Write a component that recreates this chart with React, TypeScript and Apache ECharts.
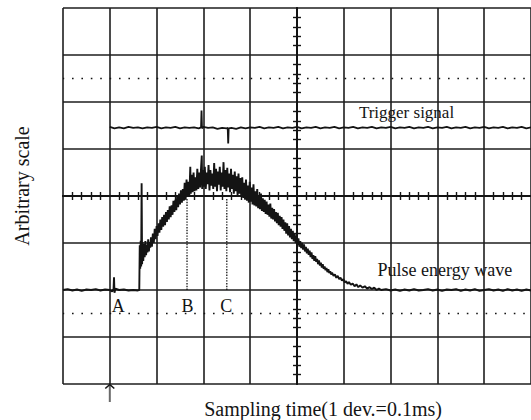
import React, { useEffect, useRef } from "react";
import * as echarts from "echarts";

// Screen divisions of the oscilloscope display
const xDivisions = 10;
const yDivisions = 8;

// Pulse energy wave, [division, level] pairs
const pulseBaseline: [number, number][] = [
  [0, 2.0], [0.1, 2.02], [0.2, 1.99], [0.3, 2.01], [0.4, 1.98], [0.5, 2.01], [0.6, 2.0],
  [0.7, 2.02], [0.8, 1.99], [0.9, 2.01], [1.0, 2.0], [1.05, 1.97], [1.08, 2.02], [1.09, 2.27],
  [1.1, 1.94], [1.12, 2.03], [1.2, 2.0], [1.3, 2.01], [1.4, 1.99], [1.5, 2.0], [1.6, 1.99],
  [1.63, 2.0],
];
const pulseRise: [number, number][] = [
  [1.64, 2.95], [1.65, 2.45], [1.66, 3.05], [1.67, 2.5], [1.68, 4.27], [1.69, 2.55],
  [1.7, 3.02], [1.715, 2.62], [1.73, 2.98], [1.745, 2.7], [1.76, 3.04], [1.775, 2.74],
  [1.79, 2.96], [1.805, 2.8], [1.82, 3.08], [1.835, 2.82], [1.85, 3.02], [1.865, 2.9],
  [1.88, 3.12], [1.9, 2.92], [1.92, 3.2], [1.94, 3.0], [1.96, 3.3], [1.98, 3.08], [2.0, 3.36],
  [2.02, 3.15], [2.04, 3.42], [2.06, 3.22], [2.08, 3.5], [2.1, 3.28], [2.12, 3.55], [2.14, 3.35],
  [2.16, 3.6], [2.18, 3.38], [2.2, 3.66], [2.22, 3.45], [2.24, 3.7], [2.26, 3.5], [2.28, 3.78],
  [2.3, 3.55], [2.32, 3.8], [2.34, 3.6], [2.36, 3.9], [2.38, 3.66], [2.4, 3.92], [2.42, 3.7],
  [2.44, 4.0], [2.46, 3.76], [2.48, 4.05], [2.5, 3.82], [2.52, 4.12], [2.54, 3.86], [2.56, 4.15],
  [2.58, 3.9], [2.6, 4.28], [2.62, 3.92], [2.64, 4.35], [2.66, 3.98], [2.68, 4.3], [2.7, 4.02],
  [2.72, 4.62], [2.73, 4.05], [2.75, 4.45], [2.77, 4.08], [2.79, 4.5], [2.81, 4.1], [2.83, 4.4],
  [2.85, 4.12], [2.87, 4.58], [2.89, 4.15], [2.91, 4.5], [2.93, 4.18], [2.95, 4.6], [2.965, 4.86],
  [2.975, 4.15],
];
const pulsePeak: [number, number][] = [
  [2.99, 4.55], [3.01, 4.2], [3.03, 4.62], [3.05, 4.15], [3.07, 4.5], [3.09, 4.25], [3.11, 4.66],
  [3.13, 4.12], [3.15, 4.55], [3.17, 4.22], [3.19, 4.48], [3.21, 4.15], [3.23, 4.7], [3.25, 4.2],
  [3.27, 4.58], [3.29, 4.1], [3.31, 4.52], [3.33, 4.24], [3.35, 4.62], [3.37, 4.12], [3.39, 4.5],
  [3.41, 4.2], [3.43, 4.72], [3.45, 4.15], [3.47, 4.55], [3.49, 4.1], [3.51, 4.6], [3.53, 4.18],
  [3.55, 4.48], [3.57, 4.08], [3.59, 4.58], [3.61, 4.15], [3.63, 4.45], [3.65, 4.05], [3.67, 4.52],
  [3.69, 4.1], [3.71, 4.42], [3.73, 4.02], [3.75, 4.48], [3.77, 4.05], [3.79, 4.38],
];
const pulseDecay: [number, number][] = [
  [3.81, 4.0], [3.83, 4.4], [3.85, 3.96], [3.87, 4.28], [3.89, 3.92], [3.91, 4.35], [3.93, 3.9],
  [3.95, 4.22], [3.97, 3.86], [3.99, 4.3], [4.01, 3.88], [4.03, 4.18], [4.05, 3.82], [4.07, 4.25],
  [4.09, 3.8], [4.11, 4.1], [4.13, 3.78], [4.15, 4.15], [4.17, 3.74], [4.19, 4.02], [4.21, 3.72],
  [4.23, 4.05], [4.25, 3.68], [4.27, 3.95], [4.29, 3.66], [4.31, 3.92], [4.33, 3.62], [4.35, 3.88],
  [4.37, 3.6], [4.39, 3.82], [4.41, 3.56], [4.43, 3.84], [4.45, 3.52], [4.47, 3.75], [4.49, 3.5],
  [4.51, 3.72], [4.53, 3.46], [4.55, 3.66], [4.57, 3.42], [4.59, 3.64], [4.61, 3.38], [4.63, 3.58],
  [4.65, 3.35], [4.67, 3.55], [4.69, 3.3], [4.71, 3.5], [4.73, 3.26], [4.75, 3.44], [4.77, 3.2],
  [4.79, 3.42], [4.81, 3.16], [4.83, 3.36], [4.85, 3.12], [4.87, 3.3], [4.89, 3.08], [4.91, 3.26],
  [4.93, 3.04], [4.95, 3.2], [4.97, 3.0], [4.99, 3.15], [5.01, 2.96], [5.03, 3.1], [5.05, 2.92],
  [5.07, 3.04], [5.09, 2.89], [5.11, 3.0], [5.13, 2.86], [5.15, 2.97], [5.17, 2.82], [5.19, 2.92],
  [5.21, 2.78], [5.23, 2.88], [5.25, 2.75], [5.27, 2.84], [5.29, 2.7], [5.31, 2.8], [5.33, 2.66],
  [5.35, 2.74], [5.37, 2.62], [5.39, 2.72], [5.41, 2.6], [5.43, 2.66], [5.45, 2.55], [5.47, 2.63],
  [5.49, 2.52], [5.51, 2.58], [5.53, 2.48], [5.55, 2.55], [5.57, 2.45], [5.59, 2.5], [5.61, 2.42],
  [5.63, 2.47], [5.65, 2.38], [5.67, 2.44], [5.69, 2.36], [5.71, 2.4], [5.73, 2.33], [5.75, 2.37],
  [5.78, 2.3], [5.81, 2.33], [5.84, 2.26], [5.87, 2.3], [5.9, 2.23], [5.93, 2.26], [5.96, 2.2],
  [5.99, 2.23], [6.02, 2.16], [6.05, 2.19], [6.08, 2.13], [6.11, 2.17], [6.15, 2.11], [6.19, 2.14],
  [6.23, 2.08], [6.27, 2.12], [6.31, 2.06], [6.35, 2.1], [6.4, 2.05], [6.45, 2.08], [6.5, 2.03],
  [6.55, 2.06], [6.6, 2.02], [6.65, 2.05], [6.7, 2.0], [6.75, 2.03],
];
const pulseTail: [number, number][] = [
  [6.8, 2.0], [6.9, 2.02], [7.0, 1.99], [7.1, 2.01], [7.2, 1.98], [7.3, 2.01], [7.4, 1.99],
  [7.5, 2.02], [7.6, 1.99], [7.7, 2.0], [7.8, 2.02], [7.9, 1.99], [8.0, 2.01], [8.1, 1.98],
  [8.2, 2.01], [8.3, 2.0], [8.4, 2.02], [8.5, 1.98], [8.6, 2.01], [8.7, 1.99], [8.8, 2.02],
  [8.9, 1.98], [9.0, 2.0], [9.1, 2.02], [9.2, 1.99], [9.3, 2.01], [9.4, 1.98], [9.5, 2.02],
  [9.6, 1.99], [9.7, 2.01], [9.8, 1.98], [9.9, 2.01], [10, 1.99],
];

// Trigger signal, starting at the trigger instant
const triggerSignal: [number, number][] = [
  [1.0, 5.47], [1.1, 5.44], [1.2, 5.46], [1.3, 5.44], [1.4, 5.47], [1.5, 5.45], [1.6, 5.46],
  [1.7, 5.44], [1.8, 5.46], [1.9, 5.45], [2.0, 5.47], [2.1, 5.44], [2.2, 5.46], [2.3, 5.45],
  [2.4, 5.47], [2.5, 5.44], [2.6, 5.46], [2.7, 5.45], [2.8, 5.46], [2.9, 5.44], [2.95, 5.46],
  [2.96, 5.82], [2.97, 5.44], [3.0, 5.47], [3.1, 5.45], [3.2, 5.46], [3.3, 5.43], [3.4, 5.45],
  [3.5, 5.44], [3.52, 5.45], [3.53, 5.12], [3.54, 5.44], [3.6, 5.45], [3.7, 5.43], [3.8, 5.46],
  [3.9, 5.44], [4.0, 5.46], [4.1, 5.45], [4.2, 5.47], [4.3, 5.44], [4.4, 5.46], [4.5, 5.45],
  [4.6, 5.47], [4.7, 5.44], [4.8, 5.46], [4.9, 5.45], [5.0, 5.47], [5.1, 5.44], [5.2, 5.46],
  [5.3, 5.45], [5.4, 5.47], [5.5, 5.44], [5.6, 5.46], [5.7, 5.45], [5.8, 5.47], [5.9, 5.44],
  [6.0, 5.46], [6.1, 5.45], [6.2, 5.47], [6.3, 5.44], [6.4, 5.46], [6.5, 5.45], [6.6, 5.47],
  [6.7, 5.44], [6.8, 5.46], [6.9, 5.45], [7.0, 5.47], [7.1, 5.44], [7.2, 5.46], [7.3, 5.45],
  [7.4, 5.47], [7.5, 5.44], [7.6, 5.46], [7.7, 5.45], [7.8, 5.47], [7.9, 5.44], [8.0, 5.46],
  [8.1, 5.45], [8.2, 5.47], [8.3, 5.44], [8.4, 5.46], [8.5, 5.45], [8.6, 5.47], [8.7, 5.44],
  [8.8, 5.46], [8.9, 5.45], [9.0, 5.47], [9.1, 5.44], [9.2, 5.46], [9.3, 5.45], [9.4, 5.47],
  [9.5, 5.44], [9.6, 5.46], [9.7, 5.45], [9.8, 5.47], [9.9, 5.44], [10, 5.46],
];

// Reading points B and C: dotted drop lines from the wave to the baseline
const pulseLevel = 2.0;
const dropLineX = [2.65, 3.5];
const dropLineTop = [3.95, 3.97];

// Dotted reference levels
const dottedLevels = [6.5, 1.5];

// Point labels sitting on the lower dotted level
const pointNames = ["A", "B", "C"];
const pointX = [1.18, 2.66, 3.49];
const pointY = 1.65;

// Trace captions
const captionTexts = ["Trigger signal", "Pulse energy wave"];
const captionX = [7.34, 8.16];
const captionY = [5.77, 2.43];

// Trigger instant, marked by an arrow under the screen
const triggerX = 1.0;

const axisTitleX = "Sampling time(1 dev.=0.1ms)";
const axisTitleY = "Arbitrary scale";

const INK = "#141414";
const SERIF = "'Liberation Serif', 'Times New Roman', serif";

export default function App() {
  const ref = useRef<HTMLDivElement>(null);

  useEffect(() => {
    document.body.style.margin = "0";
    if (!ref.current) return;
    const chart = echarts.init(ref.current, undefined, { renderer: "svg" });

    const gridBox = { left: 63, top: 8, width: 470, height: 376 };

    const plainAxis = {
      type: "value" as const,
      axisLine: { show: false },
      axisTick: { show: false },
      axisLabel: { show: false },
      splitLine: { show: true, lineStyle: { color: "#1e1e1e", width: 1.6 } },
    };

    // centre cross of the graticule with fine sub-division ticks on both sides
    const crossAxis = (inside: boolean, onZeroIndex: number) => ({
      type: "value" as const,
      gridIndex: 1,
      interval: 1,
      axisLine: { show: true, onZero: true, onZeroAxisIndex: onZeroIndex, lineStyle: { color: INK, width: 1.8 } },
      axisTick: { show: false, inside },
      minorTick: { show: true, splitNumber: 5, length: 4, lineStyle: { color: INK, width: 1.4 } },
      axisLabel: { show: false },
      splitLine: { show: false },
    });

    const line = (data: [number, number][], width: number, type: any = "solid") => ({
      type: "line" as const,
      xAxisIndex: 0,
      yAxisIndex: 0,
      data,
      showSymbol: false,
      symbol: "none",
      silent: true,
      lineStyle: { color: INK, width, type },
    });

    const series: any[] = [
      line([...pulseBaseline, ...pulseRise, ...pulsePeak, ...pulseDecay, ...pulseTail], 1.9),
      line(triggerSignal, 1.8),
    ];
    dropLineX.forEach((x, i) => {
      series.push(line([[x, pulseLevel], [x, dropLineTop[i]]], 1.3, [1.4, 1.4]));
    });
    dottedLevels.forEach((y) => {
      series.push({
        ...line([[0, y], [xDivisions, y]], 1.6, [1.6, 7.8]),
        lineStyle: { color: INK, width: 1.6, type: [1.6, 7.8], dashOffset: -8.6 },
      });
    });

    chart.setOption({
      animation: false,
      backgroundColor: "#ffffff",
      grid: [
        { ...gridBox, show: false },
        { ...gridBox, show: false },
      ],
      xAxis: [
        { ...plainAxis, gridIndex: 0, min: 0, max: xDivisions, interval: 1 },
        { ...crossAxis(true, 1), position: "bottom", min: -xDivisions / 2, max: xDivisions / 2 },
        { ...crossAxis(false, 1), position: "bottom", min: -xDivisions / 2, max: xDivisions / 2 },
      ],
      yAxis: [
        { ...plainAxis, gridIndex: 0, min: 0, max: yDivisions, interval: 1 },
        { ...crossAxis(true, 1), position: "left", min: -yDivisions / 2, max: yDivisions / 2 },
        { ...crossAxis(false, 1), position: "left", min: -yDivisions / 2, max: yDivisions / 2 },
      ],
      series,
    });

    const toPx = (x: number, y: number) => chart.convertToPixel({ gridIndex: 0 }, [x, y]) as number[];

    const texts: any[] = [];
    pointNames.forEach((name, i) => {
      const [px, py] = toPx(pointX[i], pointY);
      texts.push({
        type: "text", x: px, y: py, silent: true,
        style: { text: name, fill: INK, font: `18px ${SERIF}`, align: "center", verticalAlign: "middle" },
      });
    });
    captionTexts.forEach((t, i) => {
      const [px, py] = toPx(captionX[i], captionY[i]);
      texts.push({
        type: "text", x: px, y: py, silent: true,
        style: { text: t, fill: INK, font: `${i === 0 ? 17 : 18}px ${SERIF}`, align: "center", verticalAlign: "middle" },
      });
    });

    const [ax, ay] = toPx(triggerX, 0);
    const [, midY] = toPx(0, yDivisions / 2);
    const [midX] = toPx(xDivisions / 2, 0);

    chart.setOption({
      graphic: [
        ...texts,
        {
          type: "line", silent: true,
          shape: { x1: ax, y1: ay, x2: ax, y2: ay + 18 },
          style: { stroke: "#6a6a6a", lineWidth: 2 },
        },
        {
          type: "polyline", silent: true,
          shape: { points: [[ax - 4.5, ay + 4.5], [ax, ay + 0.5], [ax + 4.5, ay + 4.5]] },
          style: { stroke: INK, lineWidth: 1.6, fill: "none" },
        },
        {
          type: "text", silent: true, x: 22, y: midY - 10, rotation: Math.PI / 2,
          style: { text: axisTitleY, fill: INK, font: `20px ${SERIF}`, align: "center", verticalAlign: "middle" },
        },
        {
          type: "text", silent: true, x: midX + 26, y: 409,
          style: { text: axisTitleX, fill: INK, font: `20px ${SERIF}`, align: "center", verticalAlign: "middle" },
        },
      ],
    });

    return () => chart.dispose();
  }, []);

  return <div ref={ref} style={{ width: 531, height: 420 }} />;
}
